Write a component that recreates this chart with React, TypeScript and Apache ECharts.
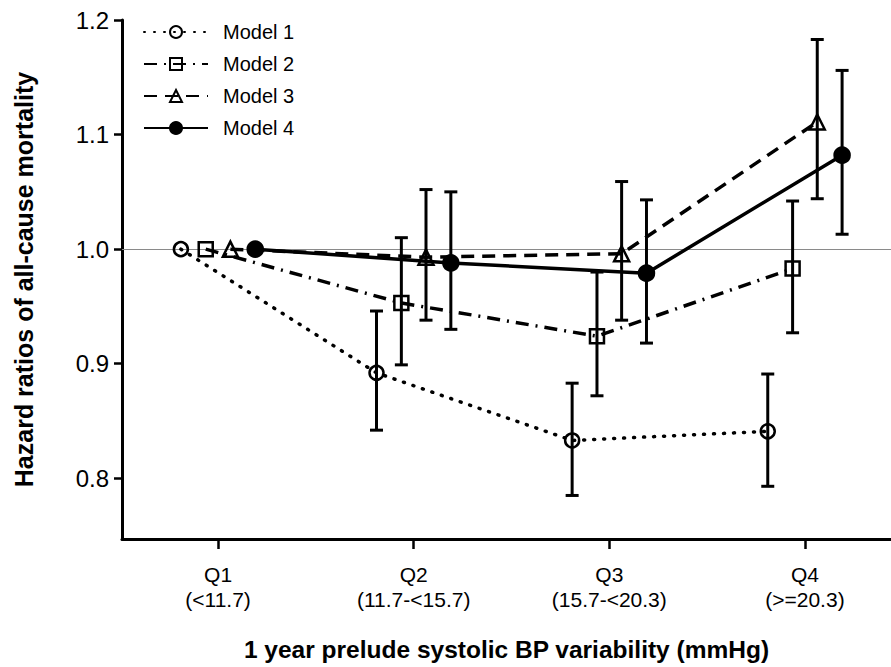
import React, { useEffect, useRef } from "react";
import * as echarts from "echarts";

const quartiles = ["Q1", "Q2", "Q3", "Q4"];
const ranges = ["(<11.7)", "(11.7-<15.7)", "(15.7-<20.3)", "(>=20.3)"];
const yTicks = [0.8, 0.9, 1.0, 1.1, 1.2];
const modelNames = ["Model 1", "Model 2", "Model 3", "Model 4"];

// hazard ratios per quartile (Q1 is the reference)
const model1 = [1.0, 0.892, 0.833, 0.841];
const model2 = [1.0, 0.953, 0.924, 0.983];
const model3 = [1.0, 0.993, 0.996, 1.111];
const model4 = [1.0, 0.988, 0.979, 1.082];

// 95% CI lower / upper (null = no bar)
const model1Low = [null, 0.842, 0.785, 0.793];
const model1High = [null, 0.946, 0.883, 0.891];
const model2Low = [null, 0.899, 0.872, 0.927];
const model2High = [null, 1.010, 0.980, 1.042];
const model3Low = [null, 0.938, 0.938, 1.044];
const model3High = [null, 1.052, 1.059, 1.183];
const model4Low = [null, 0.930, 0.918, 1.013];
const model4High = [null, 1.050, 1.043, 1.156];

const referenceHR = 1.0;

export default function App() {
  const ref = useRef<HTMLDivElement>(null);

  useEffect(() => {
    if (!ref.current) return;
    const chart = echarts.init(ref.current, null, { renderer: "svg" });
    const font = "Liberation Sans, Arial, sans-serif";

    const values = [model1, model2, model3, model4];
    const lows = [model1Low, model2Low, model3Low, model4Low];
    const highs = [model1High, model2High, model3High, model4High];
    const offsets = [-0.19, -0.063, 0.063, 0.19];
    const symbols = ["circle", "rect", "triangle", "circle"];
    const symbolSizes = [14, 14, 15, 15];
    const dashTypes: any[] = [[1, 9], [13, 7, 2, 7], [13, 8], "solid"];
    const caps: any[] = ["round", "butt", "butt", "butt"];
    const fills = ["rgba(255,255,255,0)", "rgba(255,255,255,0)", "rgba(255,255,255,0)", "#000"];

    const lineSeries: any[] = values.map((vals, m) => ({
      name: modelNames[m],
      type: "line",
      data: vals.map((v, i) => [i + 1 + offsets[m], v]),
      symbol: symbols[m],
      symbolSize: symbolSizes[m],
      showSymbol: true,
      lineStyle: { color: "#000", width: 3.5, type: dashTypes[m], cap: caps[m] },
      itemStyle: { color: fills[m], borderColor: "#000", borderWidth: 2.5 },
      z: 3,
      ...(m === 3
        ? {
            markLine: {
              silent: true,
              symbol: "none",
              label: { show: false },
              lineStyle: { color: "#8a8a8a", width: 1, type: "solid" },
              data: [{ yAxis: referenceHR }],
              z: 1,
            },
          }
        : {}),
    }));

    const errSeries: any[] = values.map((vals, m) => ({
      name: modelNames[m] + " CI",
      type: "custom",
      data: vals
        .map((v, i) => [i + 1 + offsets[m], lows[m][i], highs[m][i]])
        .filter((d) => d[1] !== null),
      renderItem: (params: any, api: any) => {
        const x = api.value(0);
        const lo = api.coord([x, api.value(1)]);
        const hi = api.coord([x, api.value(2)]);
        const w = 6.5;
        const style = { stroke: "#000", lineWidth: 3 };
        return {
          type: "group",
          children: [
            { type: "line", shape: { x1: lo[0], y1: lo[1], x2: hi[0], y2: hi[1] }, style },
            { type: "line", shape: { x1: lo[0] - w, y1: lo[1], x2: lo[0] + w, y2: lo[1] }, style },
            { type: "line", shape: { x1: hi[0] - w, y1: hi[1], x2: hi[0] + w, y2: hi[1] }, style },
          ],
        };
      },
      z: 2,
    }));

    chart.setOption({
      animation: false,
      backgroundColor: "#fff",
      grid: { left: 122, top: 20, right: 0, bottom: 126, containLabel: false },
      legend: {
        data: modelNames,
        orient: "vertical",
        left: 138,
        top: 17,
        itemWidth: 64,
        itemHeight: 15,
        itemGap: 12,
        textStyle: { fontFamily: font, fontSize: 20, color: "#000", padding: [0, 0, 0, 10] },
      },
      xAxis: {
        type: "value",
        min: 0.509,
        max: 4.44,
        splitLine: { show: false },
        axisLine: { show: true, onZero: false, lineStyle: { color: "#000", width: 3 } },
        axisTick: { show: true, customValues: [1, 2, 3, 4], length: 10, lineStyle: { color: "#000", width: 2.5 } },
        axisLabel: {
          customValues: [1, 2, 3, 4],
          formatter: (v: number) => {
            const i = Math.round(v) - 1;
            return quartiles[i] + "\n" + ranges[i];
          },
          margin: 23,
          fontFamily: font,
          fontSize: 21,
          lineHeight: 25,
          color: "#000",
        },
        name: "1 year prelude systolic BP variability (mmHg)",
        nameLocation: "middle",
        nameGap: 98,
        nameTextStyle: { fontFamily: font, fontSize: 24.5, fontWeight: "bold", color: "#000" },
      },
      yAxis: {
        type: "value",
        min: 0.747,
        max: 1.2,
        splitLine: { show: false },
        axisLine: { show: true, lineStyle: { color: "#000", width: 3 } },
        axisTick: { show: true, customValues: yTicks, length: 8, lineStyle: { color: "#000", width: 2.5 } },
        axisLabel: {
          customValues: yTicks,
          formatter: (v: number) => v.toFixed(1),
          margin: 13,
          fontFamily: font,
          fontSize: 24,
          color: "#000",
        },
        name: "Hazard ratios of all-cause mortality",
        nameLocation: "middle",
        nameGap: 86,
        nameTextStyle: { fontFamily: font, fontSize: 25, fontWeight: "bold", color: "#000" },
      },
      series: [...lineSeries, ...errSeries],
    });

    return () => chart.dispose();
  }, []);

  return <div ref={ref} style={{ width: 891, height: 667, position: "absolute", left: 0, top: 0 }} />;
}
